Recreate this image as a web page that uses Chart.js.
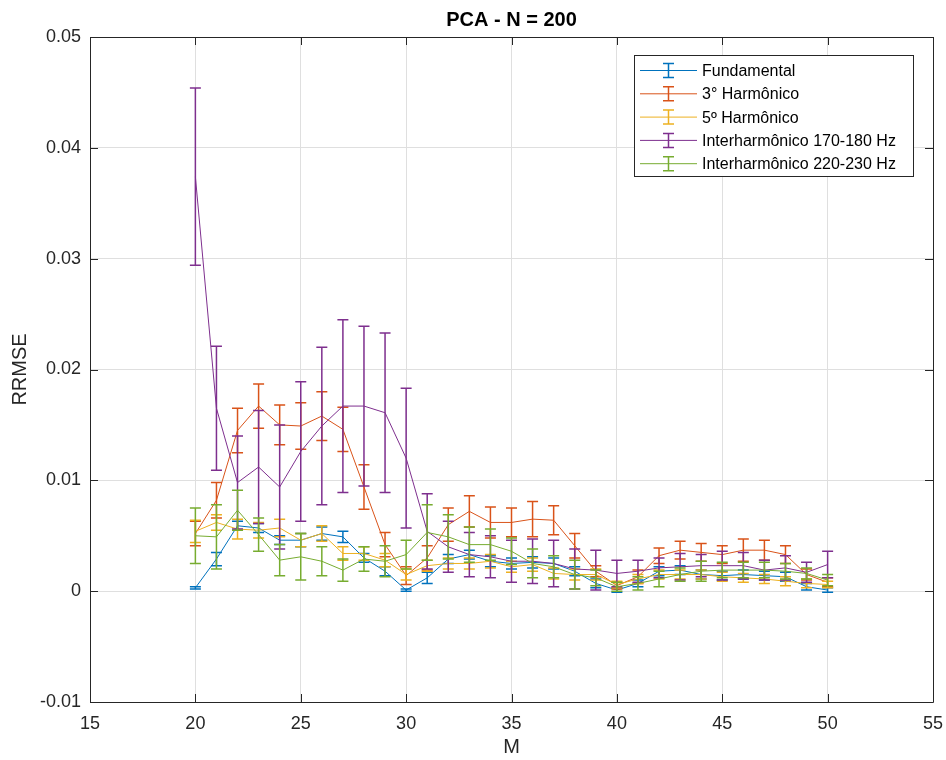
<!DOCTYPE html>
<html>
<head>
<meta charset="utf-8">
<script src="https://cdn.jsdelivr.net/npm/chart.js@4.4.1/dist/chart.umd.min.js"></script>
<style>
  html, body { margin: 0; padding: 0; background: #ffffff; }
  #wrap { width: 946px; height: 760px; position: relative; }
</style>
</head>
<body>
<div id="wrap"><canvas id="c" width="946" height="760"></canvas></div>
<script>
// ---------- data ----------
const M = [20,21,22,23,24,25,26,27,28,29,30,31,32,33,34,35,36,37,38,39,40,41,42,43,44,45,46,47,48,49,50];

const seriesNames = ['Fundamental', '3° Harmônico', '5º Harmônico', 'Interharmônico 170-180 Hz', 'Interharmônico 220-230 Hz'];

const fundamental    = [0.0003,0.0029,0.0059,0.0057,0.0046,0.0046,0.0052,0.0049,0.0030,0.0018,0.0001,0.0012,0.0029,0.0033,0.0027,0.0025,0.0026,0.0025,0.0018,0.0007,0.0001,0.0007,0.0018,0.0019,0.0015,0.0014,0.0015,0.0014,0.0013,0.0004,0.0001];
const fundamentalErr = [0.0001,0.0006,0.0004,0.0004,0.0004,0.0006,0.0006,0.0005,0.0004,0.0004,0.0001,0.0005,0.0004,0.0004,0.0005,0.0005,0.0005,0.0005,0.0004,0.0004,0.0002,0.0003,0.0004,0.0004,0.0004,0.0004,0.0004,0.0004,0.0004,0.0003,0.0002];

const harm3    = [0.0052,0.0082,0.0145,0.0167,0.0150,0.0149,0.0158,0.0146,0.0094,0.0042,0.0014,0.0030,0.0060,0.0072,0.0062,0.0062,0.0065,0.0064,0.0041,0.0018,0.0005,0.0013,0.0032,0.0037,0.0035,0.0033,0.0037,0.0037,0.0033,0.0015,0.0008];
const harm3Err = [0.0011,0.0016,0.0020,0.0020,0.0018,0.0021,0.0022,0.0020,0.0020,0.0011,0.0008,0.0011,0.0015,0.0014,0.0014,0.0013,0.0016,0.0013,0.0011,0.0005,0.0003,0.0006,0.0007,0.0008,0.0008,0.0008,0.0010,0.0009,0.0008,0.0005,0.0004];

const harm5    = [0.0054,0.0062,0.0056,0.0055,0.0057,0.0046,0.0052,0.0034,0.0034,0.0028,0.0015,0.0023,0.0025,0.0025,0.0027,0.0022,0.0024,0.0016,0.0015,0.0015,0.0006,0.0011,0.0015,0.0015,0.0015,0.0013,0.0012,0.0011,0.0009,0.0007,0.0006];
const harm5Err = [0.0010,0.0007,0.0009,0.0007,0.0008,0.0006,0.0007,0.0006,0.0006,0.0006,0.0005,0.0005,0.0005,0.0005,0.0006,0.0005,0.0006,0.0005,0.0005,0.0005,0.0003,0.0004,0.0004,0.0004,0.0004,0.0004,0.0004,0.0004,0.0004,0.0004,0.0003];

const inter170    = [0.0374,0.0165,0.0098,0.0112,0.0094,0.0126,0.0149,0.0167,0.0167,0.0161,0.0120,0.0054,0.0040,0.0033,0.0031,0.0027,0.0027,0.0025,0.0020,0.0019,0.0016,0.0018,0.0021,0.0022,0.0023,0.0023,0.0023,0.0019,0.0021,0.0017,0.0024];
const inter170Err = [0.0080,0.0056,0.0042,0.0051,0.0056,0.0063,0.0071,0.0078,0.0072,0.0072,0.0063,0.0034,0.0023,0.0020,0.0019,0.0019,0.0020,0.0021,0.0018,0.0018,0.0012,0.0010,0.0009,0.0012,0.0010,0.0013,0.0012,0.0009,0.0011,0.0009,0.0012];

const inter220    = [0.0050,0.0049,0.0073,0.0051,0.0028,0.0031,0.0027,0.0019,0.0029,0.0027,0.0033,0.0053,0.0049,0.0042,0.0042,0.0036,0.0025,0.0022,0.0015,0.0012,0.0004,0.0007,0.0011,0.0015,0.0018,0.0019,0.0019,0.0019,0.0018,0.0016,0.0010];
const inter220Err = [0.0025,0.0029,0.0018,0.0015,0.0014,0.0021,0.0013,0.0010,0.0011,0.0014,0.0013,0.0025,0.0020,0.0016,0.0014,0.0012,0.0013,0.0010,0.0013,0.0007,0.0004,0.0006,0.0007,0.0006,0.0009,0.0007,0.0007,0.0007,0.0007,0.0005,0.0005];

const xTicks = [15,20,25,30,35,40,45,50,55];
const yTicks = [-0.01,0,0.01,0.02,0.03,0.04,0.05];

// ---------- styling ----------
const colors = ['#0072BD', '#D95319', '#EDB120', '#7E2F8E', '#77AC30'];
const FONT = "'Liberation Sans', Arial, Helvetica, sans-serif";
const AXIS = '#262626';

const values = [fundamental, harm3, harm5, inter170, inter220];
const errors = [fundamentalErr, harm3Err, harm5Err, inter170Err, inter220Err];

const datasets = values.map((vals, k) => ({
  label: seriesNames[k],
  data: M.map((m, i) => ({ x: m, y: vals[i] })),
  errs: errors[k],
  borderColor: colors[k],
  backgroundColor: colors[k],
  borderWidth: 1,
  pointRadius: 0,
  tension: 0,
  fill: false,
  order: 5 - k
}));

const CAP = 5.5;

const errorBarPlugin = {
  id: 'errorBars',
  afterDatasetDraw(chart, args) {
    const ds = chart.data.datasets[args.index];
    const ys = chart.scales.y, xs = chart.scales.x;
    const ctx = chart.ctx;
    const area = chart.chartArea;
    ctx.save();
    ctx.beginPath();
    ctx.rect(area.left, area.top, area.right - area.left, area.bottom - area.top);
    ctx.clip();
    ctx.strokeStyle = ds.borderColor;
    ctx.lineWidth = 1.5;
    ds.data.forEach((p, i) => {
      const e = ds.errs[i];
      const px = xs.getPixelForValue(p.x);
      const yTop = ys.getPixelForValue(p.y + e);
      const yBot = ys.getPixelForValue(p.y - e);
      ctx.beginPath();
      ctx.moveTo(px, yTop); ctx.lineTo(px, yBot);
      ctx.moveTo(px - CAP, yTop); ctx.lineTo(px + CAP, yTop);
      ctx.moveTo(px - CAP, yBot); ctx.lineTo(px + CAP, yBot);
      ctx.stroke();
    });
    ctx.restore();
  }
};

const boxPlugin = {
  id: 'matlabBox',
  afterDraw(chart) {
    const ctx = chart.ctx;
    const a = chart.chartArea;
    const xs = chart.scales.x, ys = chart.scales.y;
    const TL = 8;
    ctx.save();
    ctx.strokeStyle = AXIS;
    ctx.lineWidth = 1;
    ctx.beginPath();
    ctx.rect(Math.round(a.left) + 0.5, Math.round(a.top) + 0.5, Math.round(a.right - a.left), Math.round(a.bottom - a.top));
    ctx.stroke();
    ctx.beginPath();
    xTicks.forEach(t => {
      const px = Math.round(xs.getPixelForValue(t)) + 0.5;
      ctx.moveTo(px, a.bottom); ctx.lineTo(px, a.bottom - TL);
      ctx.moveTo(px, a.top); ctx.lineTo(px, a.top + TL);
    });
    yTicks.forEach(t => {
      const py = Math.round(ys.getPixelForValue(t)) + 0.5;
      ctx.moveTo(a.left, py); ctx.lineTo(a.left + TL, py);
      ctx.moveTo(a.right, py); ctx.lineTo(a.right - TL, py);
    });
    ctx.stroke();

    // legend
    const lx = 634.5, ly = 55.5, lw = 279, lh = 121;
    ctx.fillStyle = '#ffffff';
    ctx.fillRect(lx, ly, lw, lh);
    ctx.strokeStyle = AXIS;
    ctx.lineWidth = 1;
    ctx.strokeRect(lx, ly, lw, lh);
    ctx.font = '16px ' + FONT;
    ctx.textBaseline = 'middle';
    ctx.textAlign = 'left';
    chart.data.datasets.forEach((ds, k) => {
      const cy = 70.5 + k * 23.3;
      ctx.strokeStyle = ds.borderColor;
      ctx.lineWidth = 1;
      ctx.beginPath();
      ctx.moveTo(640, cy); ctx.lineTo(697, cy);
      ctx.stroke();
      ctx.lineWidth = 1.5;
      ctx.beginPath();
      ctx.moveTo(668.5, cy - 7); ctx.lineTo(668.5, cy + 7);
      ctx.moveTo(663, cy - 7); ctx.lineTo(674, cy - 7);
      ctx.moveTo(663, cy + 7); ctx.lineTo(674, cy + 7);
      ctx.stroke();
      ctx.fillStyle = '#000000';
      ctx.fillText(ds.label, 702, cy + 1);
    });
    ctx.restore();
  }
};

new Chart(document.getElementById('c'), {
  type: 'line',
  data: { datasets },
  plugins: [errorBarPlugin, boxPlugin],
  options: {
    responsive: false,
    animation: false,
    devicePixelRatio: 1,
    layout: { padding: { left: 0, right: 13, top: 0, bottom: 0 } },
    plugins: {
      legend: { display: false },
      tooltip: { enabled: false },
      title: {
        display: true,
        fullSize: false,
        text: 'PCA - N = 200',
        color: '#000000',
        font: { family: FONT, size: 20, weight: 'bold', lineHeight: 1.2 },
        padding: { top: 8, bottom: 5 }
      }
    },
    scales: {
      x: {
        type: 'linear',
        min: 15, max: 55,
        afterBuildTicks(scale) { scale.ticks = xTicks.map(v => ({ value: v })); },
        ticks: { color: AXIS, font: { family: FONT, size: 18 }, padding: 11, maxRotation: 0, autoSkip: false,
                 callback: v => String(v) },
        grid: { color: '#dfdfdf', drawTicks: false, lineWidth: 1 },
        border: { display: false },
        title: { display: true, text: 'M', color: AXIS, font: { family: FONT, size: 20, lineHeight: 1.2 }, padding: { top: 0, bottom: 1 } },
        afterFit(scale) { scale.height = 58; scale.paddingLeft = 0; scale.paddingRight = 0; }
      },
      y: {
        type: 'linear',
        min: -0.01, max: 0.05,
        afterBuildTicks(scale) { scale.ticks = yTicks.map(v => ({ value: v })); },
        ticks: { color: AXIS, font: { family: FONT, size: 18 }, padding: 9, autoSkip: false,
                 callback: v => String(Math.round(v * 1000) / 1000) },
        grid: { color: '#dfdfdf', drawTicks: false, lineWidth: 1 },
        border: { display: false },
        title: { display: true, text: 'RRMSE', color: AXIS, font: { family: FONT, size: 20, lineHeight: 1.2 }, padding: { top: 8, bottom: 0 } },
        afterFit(scale) { scale.width = 90; scale.paddingTop = 0; scale.paddingBottom = 0; }
      }
    }
  }
});
</script>
</body>
</html>
